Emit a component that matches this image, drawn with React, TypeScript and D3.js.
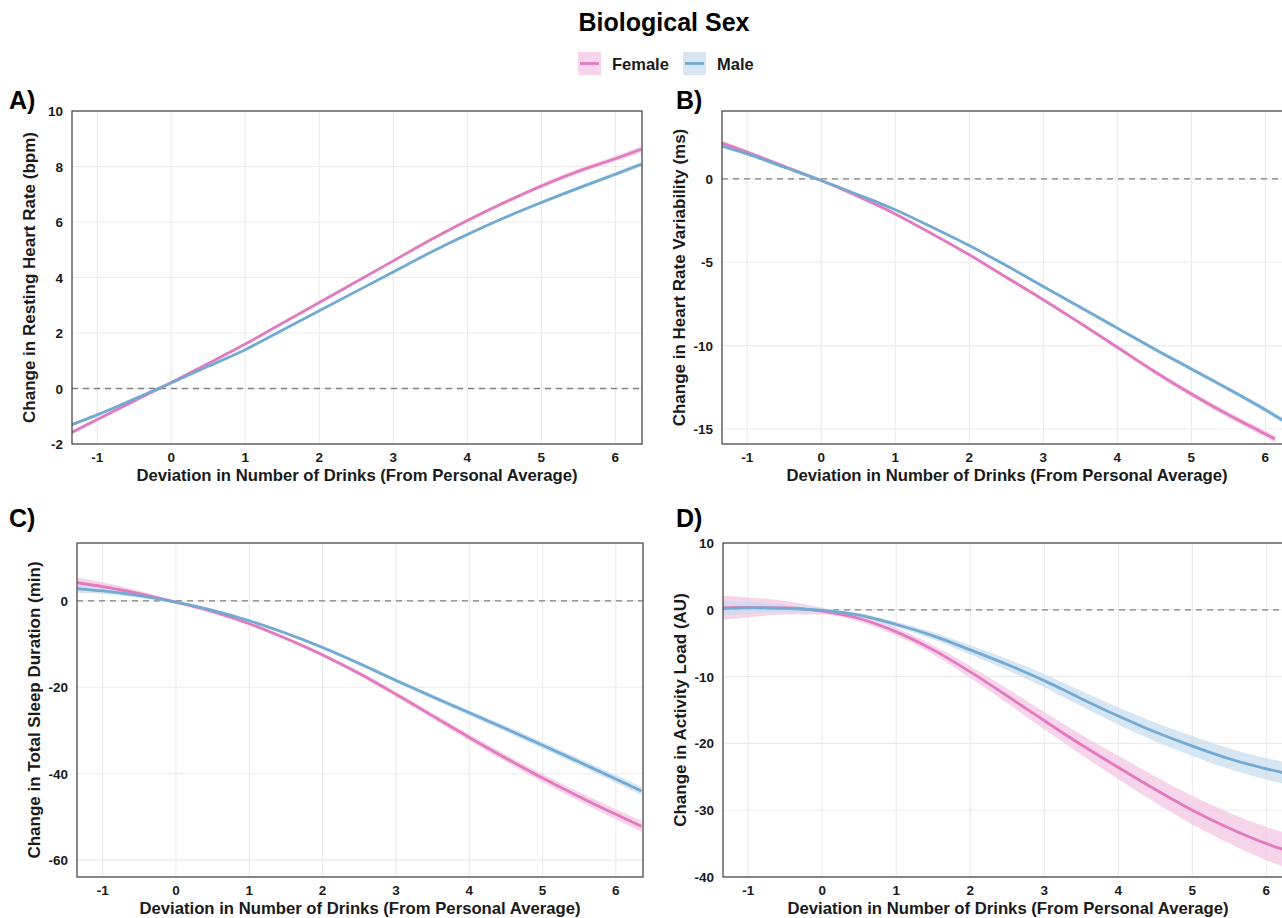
import React from "react";
import * as d3 from "d3";

// ---------- data ----------
const xs = [-1.34, -1, -0.5, 0, 0.5, 1, 1.5, 2, 2.5, 3, 3.5, 4, 4.5, 5, 5.5, 6, 6.35];

// A) Resting heart rate (bpm)
const rhrFemale = [-1.58, -1.12, -0.45, 0.22, 0.9, 1.6, 2.35, 3.1, 3.85, 4.6, 5.35, 6.05, 6.7, 7.3, 7.83, 8.28, 8.62];
const rhrMale = [-1.3, -0.95, -0.38, 0.2, 0.8, 1.4, 2.1, 2.8, 3.5, 4.2, 4.9, 5.55, 6.15, 6.7, 7.22, 7.72, 8.08];
const rhrFemaleSe = [0.08, 0.06, 0.04, 0.03, 0.03, 0.03, 0.03, 0.04, 0.04, 0.05, 0.05, 0.06, 0.07, 0.08, 0.09, 0.1, 0.11];
const rhrMaleSe = [0.06, 0.05, 0.03, 0.02, 0.02, 0.02, 0.03, 0.03, 0.03, 0.04, 0.04, 0.05, 0.05, 0.06, 0.07, 0.08, 0.08];

// B) Heart rate variability (ms)
const hrvX = [-1.34, -1, -0.5, 0, 0.5, 1, 1.5, 2, 2.5, 3, 3.5, 4, 4.5, 5, 5.5, 6, 6.13];
const hrvFemale = [2.15, 1.6, 0.75, -0.1, -1.05, -2.1, -3.3, -4.55, -5.9, -7.25, -8.65, -10.1, -11.55, -12.9, -14.15, -15.3, -15.6];
const hrvMale = [1.97, 1.5, 0.7, -0.1, -0.95, -1.85, -2.9, -4.0, -5.2, -6.45, -7.7, -8.95, -10.2, -11.4, -12.6, -13.85, -14.8];
const hrvFemaleSe = [0.15, 0.12, 0.08, 0.05, 0.05, 0.06, 0.07, 0.08, 0.09, 0.1, 0.11, 0.12, 0.14, 0.16, 0.18, 0.2, 0.22];
const hrvMaleSe = [0.12, 0.1, 0.07, 0.04, 0.04, 0.05, 0.06, 0.07, 0.08, 0.09, 0.1, 0.11, 0.12, 0.13, 0.14, 0.15, 0.16];

// C) Total sleep duration (min)
const tsdFemale = [4.2, 3.3, 1.7, -0.3, -2.5, -5.3, -8.7, -12.5, -16.8, -21.6, -26.6, -31.6, -36.4, -41.0, -45.3, -49.4, -52.2];
const tsdMale = [2.8, 2.3, 1.2, -0.3, -2.2, -4.6, -7.5, -10.8, -14.5, -18.4, -22.2, -25.9, -29.6, -33.4, -37.3, -41.2, -44.0];
const tsdFemaleSe = [1.2, 1.0, 0.6, 0.3, 0.3, 0.35, 0.4, 0.45, 0.5, 0.55, 0.65, 0.75, 0.85, 0.95, 1.05, 1.2, 1.3];
const tsdMaleSe = [0.9, 0.7, 0.45, 0.25, 0.25, 0.3, 0.35, 0.4, 0.45, 0.5, 0.55, 0.6, 0.7, 0.75, 0.8, 0.9, 1.0];

// D) Activity load (AU)
const alFemale = [0.3, 0.35, 0.3, -0.2, -1.3, -3.3, -6.0, -9.3, -12.9, -16.6, -20.2, -23.6, -26.9, -30.0, -32.7, -35.0, -36.3];
const alMale = [0.2, 0.3, 0.2, -0.1, -0.8, -2.2, -3.9, -6.0, -8.2, -10.6, -13.3, -15.9, -18.3, -20.4, -22.3, -23.8, -24.7];
const alFemaleSe = [1.8, 1.5, 1.0, 0.5, 0.5, 0.6, 0.7, 0.9, 1.1, 1.3, 1.5, 1.75, 1.95, 2.15, 2.3, 2.5, 2.6];
const alMaleSe = [1.1, 0.9, 0.6, 0.3, 0.3, 0.4, 0.55, 0.7, 0.85, 1.0, 1.15, 1.3, 1.4, 1.5, 1.55, 1.6, 1.65];

const xTicks = [-1, 0, 1, 2, 3, 4, 5, 6];
const sexes = ["Female", "Male"];
const colors: Record<string, string> = { Female: "#e27ac0", Male: "#72aad4" };
const fills: Record<string, string> = { Female: "#f3c6e3", Male: "#c8ddee" };

const xTitle = "Deviation in Number of Drinks (From Personal Average)";

type Series = { sex: string; x: number[]; y: number[]; se: number[] };
type Panel = {
  label: string;
  yTitle: string;
  left: number;
  top: number;
  width: number;
  height: number;
  labelX: number;
  labelY: number;
  xDomain: [number, number];
  yDomain: [number, number];
  yTicks: number[];
  series: Series[];
};

const panels: Panel[] = [
  {
    label: "A)", yTitle: "Change in Resting Heart Rate (bpm)",
    left: 72, top: 111, width: 570, height: 333, labelX: 9, labelY: 109,
    xDomain: [-1.34, 6.36], yDomain: [-2, 10], yTicks: [-2, 0, 2, 4, 6, 8, 10],
    series: [
      { sex: "Female", x: xs, y: rhrFemale, se: rhrFemaleSe },
      { sex: "Male", x: xs, y: rhrMale, se: rhrMaleSe },
    ],
  },
  {
    label: "B)", yTitle: "Change in Heart Rate Variability (ms)",
    left: 722, top: 111, width: 570, height: 333, labelX: 676, labelY: 109,
    xDomain: [-1.34, 6.36], yDomain: [-15.9, 4.07], yTicks: [-15, -10, -5, 0],
    series: [
      { sex: "Female", x: hrvX, y: hrvFemale, se: hrvFemaleSe },
      { sex: "Male", x: xs, y: hrvMale, se: hrvMaleSe },
    ],
  },
  {
    label: "C)", yTitle: "Change in Total Sleep Duration (min)",
    left: 77, top: 543, width: 566, height: 334, labelX: 9, labelY: 527,
    xDomain: [-1.35, 6.37], yDomain: [-63.9, 13.4], yTicks: [-60, -40, -20, 0],
    series: [
      { sex: "Female", x: xs, y: tsdFemale, se: tsdFemaleSe },
      { sex: "Male", x: xs, y: tsdMale, se: tsdMaleSe },
    ],
  },
  {
    label: "D)", yTitle: "Change in Activity Load (AU)",
    left: 723, top: 543, width: 570, height: 334, labelX: 676, labelY: 527,
    xDomain: [-1.34, 6.36], yDomain: [-40, 10], yTicks: [-40, -30, -20, -10, 0, 10],
    series: [
      { sex: "Female", x: xs, y: alFemale, se: alFemaleSe },
      { sex: "Male", x: xs, y: alMale, se: alMaleSe },
    ],
  },
];

const FONT = "'Liberation Sans', Arial, Helvetica, sans-serif";

function PanelView({ p, idx }: { p: Panel; idx: number }) {
  const x = d3.scaleLinear().domain(p.xDomain).range([p.left, p.left + p.width]);
  const y = d3.scaleLinear().domain(p.yDomain).range([p.top + p.height, p.top]);
  const clipId = `clip-${idx}`;
  const line = d3
    .line<[number, number]>()
    .x((d) => x(d[0]))
    .y((d) => y(d[1]))
    .curve(d3.curveMonotoneX);
  const area = d3
    .area<[number, number, number]>()
    .x((d) => x(d[0]))
    .y0((d) => y(d[1] - d[2]))
    .y1((d) => y(d[1] + d[2]))
    .curve(d3.curveMonotoneX);
  const bottom = p.top + p.height;
  const xMid = (x(p.xDomain[0]) + x(p.xDomain[1])) / 2;
  return (
    <g>
      <defs>
        <clipPath id={clipId}>
          <rect x={p.left} y={p.top} width={p.width} height={p.height} />
        </clipPath>
      </defs>
      <g clipPath={`url(#${clipId})`}>
        {xTicks.map((t) => (
          <line key={"gx" + t} x1={x(t)} x2={x(t)} y1={p.top} y2={bottom} stroke="#ebebeb" strokeWidth={1.1} />
        ))}
        {p.yTicks.map((t) => (
          <line key={"gy" + t} x1={p.left} x2={p.left + p.width} y1={y(t)} y2={y(t)} stroke="#ebebeb" strokeWidth={1.1} />
        ))}
        <line x1={p.left} x2={p.left + p.width} y1={y(0)} y2={y(0)} stroke="#808080" strokeWidth={1.3} strokeDasharray="6,5" />
        {p.series.map((s) => {
          const pts = s.x.map((v, i) => [v, s.y[i], s.se[i]] as [number, number, number]);
          return <path key={"r" + s.sex} d={area(pts) || ""} fill={fills[s.sex]} fillOpacity={0.75} stroke="none" />;
        })}
        {p.series.map((s) => {
          const pts = s.x.map((v, i) => [v, s.y[i]] as [number, number]);
          return <path key={"l" + s.sex} d={line(pts) || ""} fill="none" stroke={colors[s.sex]} strokeWidth={2.8} />;
        })}
      </g>
      <rect x={p.left} y={p.top} width={p.width} height={p.height} fill="none" stroke="#3a3a3a" strokeWidth={1.2} />
      {xTicks.map((t) => (
        <text key={"tx" + t} x={x(t)} y={bottom + 18} textAnchor="middle" fontSize={13.5} fontWeight="bold" fill="#1a1a1a" fontFamily={FONT}>
          {t}
        </text>
      ))}
      {p.yTicks.map((t) => (
        <text key={"ty" + t} x={p.left - 9} y={y(t) + 5} textAnchor="end" fontSize={13.5} fontWeight="bold" fill="#1a1a1a" fontFamily={FONT}>
          {t}
        </text>
      ))}
      <text x={xMid} y={bottom + 37} textAnchor="middle" fontSize={16.7} fontWeight="bold" fill="#1a1a1a" fontFamily={FONT}>
        {xTitle}
      </text>
      <text
        transform={`translate(${p.left - 37},${p.top + p.height / 2}) rotate(-90)`}
        textAnchor="middle"
        fontSize={17}
        fontWeight="bold"
        fill="#1a1a1a"
        fontFamily={FONT}
      >
        {p.yTitle}
      </text>
      <text x={p.labelX} y={p.labelY} fontSize={25} fontWeight="bold" fill="#000" fontFamily={FONT}>
        {p.label}
      </text>
    </g>
  );
}

export default function App() {
  const W = 1282;
  const H = 918;
  return (
    <div style={{ position: "absolute", left: 0, top: 0, width: W, height: H, overflow: "hidden", background: "#fff" }}>
      <svg width={W} height={H} style={{ display: "block" }}>
        <rect x={0} y={0} width={W} height={H} fill="#fff" />
        <text x={664} y={31} textAnchor="middle" fontSize={25} fontWeight="bold" fill="#000" fontFamily={FONT}>
          Biological Sex
        </text>
        {sexes.map((s, i) => {
          const kx = i === 0 ? 578 : 683;
          return (
            <g key={s}>
              <rect x={kx} y={52} width={23} height={23} fill={fills[s]} fillOpacity={0.75} />
              <line x1={kx + 2} x2={kx + 21} y1={63.5} y2={63.5} stroke={colors[s]} strokeWidth={2.8} />
              <text x={kx + 34} y={69.5} fontSize={16.5} fontWeight="bold" fill="#1a1a1a" fontFamily={FONT}>
                {s}
              </text>
            </g>
          );
        })}
        {panels.map((p, i) => (
          <PanelView key={p.label} p={p} idx={i} />
        ))}
      </svg>
    </div>
  );
}
